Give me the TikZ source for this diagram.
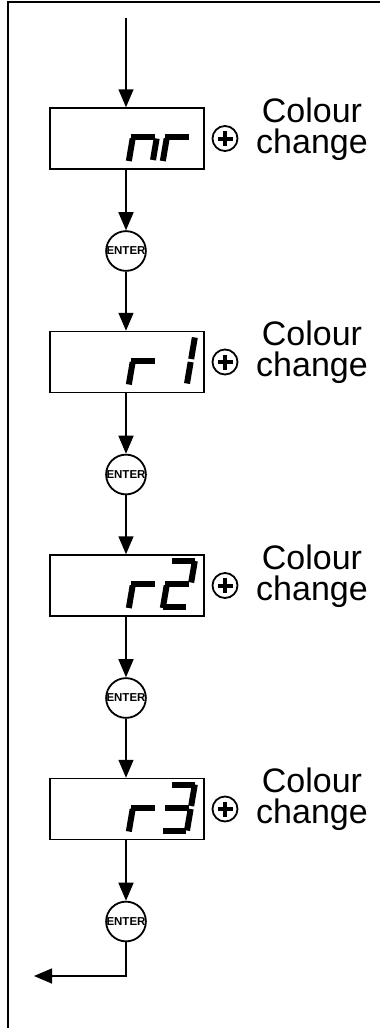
\documentclass[tikz,border=0pt]{standalone}
\usepackage{fontspec}
\setmainfont{Liberation Sans}
\usetikzlibrary{arrows.meta}
% one digit of the display, slanted seven segments
\newcommand\sevenseg[3]{%
	\begin{scope}[shift={(#1,#2)}, y=1pt, xslant=0.17]
	\path 
	(1.5,46) coordinate (a1) (24,46) coordinate (a2)
	(24,46) coordinate (b1) (24,24.5) coordinate (b2)
	(24,21.5) coordinate (c1) (24,0) coordinate (c2)
	(0,0) coordinate (d1) (22.5,0) coordinate (d2)
	(0,21.5) coordinate (e1) (0,-1) coordinate (e2)
	(0,46) coordinate (f1) (0,24.5) coordinate (f2)
	(-1.5,23) coordinate (g1) (22.5,23) coordinate (g2)
	;
	\foreach \s in #3 \draw[seg] (\s1) -- (\s2);
	\end{scope}}
\begin{document}
\begin{tikzpicture}[x = 1pt, y = -1pt, line width = 1.5pt, >={Triangle[length=18pt,width=15pt]},
	disp/.style = {draw, minimum width = 154pt, minimum height = 61pt, inner sep = 0pt},
	enterbtn/.style = {draw, circle, line width = 1.8pt, minimum size = 37pt, inner sep = 0pt, font = \fontsize{11.5}{11.5}\selectfont\bfseries},
	plusbtn/.style = {draw, circle, line width = 1.8pt, minimum size = 25pt, inner sep = 0pt},
	caption/.style = {font = \fontsize{34}{31}\selectfont, align = center, anchor = base, inner sep = 0pt},
	seg/.style = {line width = 6pt}]
	\def\dy{223.5}  %distance between two displays
	\useasboundingbox (0,0) rectangle (380,1028);
	\draw (8,1028) -- (8,2) -- (380,2);
	\foreach \i/\ga/\gb in {1/{c,e,g}/{e,g}, 2/{e,g}/{b,c}, 3/{e,g}/{a,b,g,e,d}, 4/{e,g}/{a,b,g,c,d}}{
		\pgfmathsetmacro\yc{138.5+(\i-1)*\dy}
		\node[disp] (disp\i) at (127,\yc) {};
		\node[plusbtn] (plus\i) at (225,\yc) {};
		\draw[line width = 4pt] (plus\i.center) +(-7.5,0) -- +(7.5,0) +(0,-7.5) -- +(0,7.5);
		\node[caption] (txt\i) at (312,\yc+14.5) {Colour\\change};
		\node[enterbtn] (enter\i) at (126,\yc+112.5) {ENTER};
		\draw[->] (enter\i |- disp\i.south) -- (enter\i.north);
		\sevenseg{129}{\yc+21.5}{\ga}
		\sevenseg{163}{\yc+21.5}{\gb}
	}
	\coordinate (in) at (126,18);
	\coordinate (out) at (34,976);
	\draw[->] (in) -- (in |- disp1.north);
	\foreach \i/\j in {1/2,2/3,3/4}
	\draw[->] (enter\i) -- (enter\i |- disp\j.north);
	\draw[->] (enter4) |- (out);
\end{tikzpicture}
\end{document}
